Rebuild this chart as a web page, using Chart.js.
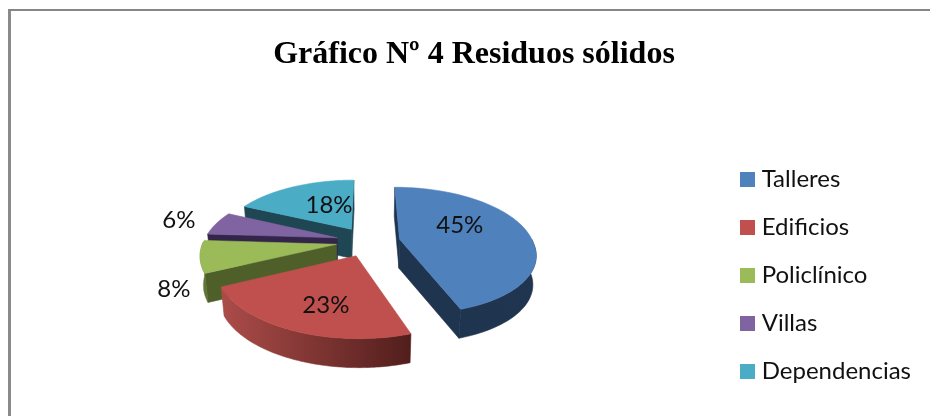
<!DOCTYPE html>
<html><head><meta charset="utf-8">
<script src="https://cdn.jsdelivr.net/npm/chart.js@4"></script>
<style>
html,body{margin:0;padding:0;background:#fff;overflow:hidden;width:930px;height:416px}
#frame{position:absolute;left:8px;top:9px;width:1000px;height:1000px;border-left:3px solid #8a8a8a;border-top:2px solid #868686}
#c{position:absolute;left:0;top:0}
</style></head><body>
<div id="frame"></div>
<canvas id="c" width="930" height="416"></canvas>
<script>
const titleText = 'Gráfico Nº 4 Residuos sólidos';
const categories = ['Talleres','Edificios','Policlínico','Villas','Dependencias'];
const values = [45,23,8,6,18];
const topColors = ['#4F81BD','#C0504D','#9BBB59','#8064A2','#4BACC6'];
const faceColors = ['#1F344F','#5A2422','#4F5F2A','#33254A','#1E4753'];
const rimLight = ['#1F344F','#AC4C49','#8AA64E','#33254A','#1E4753'];
const rimDark = ['#1F3550','#511E1C','#5F7334','#33254A','#1E4753'];
// label placement in the pie plane: radius fraction and turn (degrees) from the slice's middle
const labelRadius = [0.542,0.675,1.242,1.319,0.496];
const labelTurn = [-17.4,-5.8,-19.6,-0.8,8.9];
const paintOrder = [4,3,2,0,1];

const view = {x0:368,y0:241.5,a:133,b:62,k:0.18,shear:6,explode:0.242,depth:29,converge:0.98};

function project(u,v,low){
  const w = 1 - view.k*v;
  let x = view.x0 + view.a*u/w + view.shear*Math.max(v,0);
  let y = view.y0 + view.b*v/w;
  if(low){ x = view.x0 + (x-view.x0)*view.converge; y += view.depth; }
  return [x,y];
}
function poly(ctx,pts,fill){
  ctx.beginPath();
  pts.forEach((p,i)=> i?ctx.lineTo(p[0],p[1]):ctx.moveTo(p[0],p[1]));
  ctx.closePath();
  ctx.fillStyle=fill; ctx.fill();
  ctx.strokeStyle=fill; ctx.lineWidth=0.6; ctx.stroke();
}
function swatch(color){
  const s=document.createElement('canvas'); s.width=15; s.height=15;
  const g=s.getContext('2d'); g.fillStyle=color; g.fillRect(0,0,15,15);
  return s;
}
const pie3d = {
  id:'pie3d',
  beforeDatasetsDraw(chart){
    const ctx = chart.ctx, arcs = chart.getDatasetMeta(0).data;
    const geo = arcs.map(el=>{
      const s = el.startAngle+Math.PI/2, e = el.endAngle+Math.PI/2, m=(s+e)/2;
      return {s,e,m,ex:view.explode*Math.sin(m),ey:-view.explode*Math.cos(m)};
    });
    const pt=(g,t,r=1)=>[g.ex+r*Math.sin(t),g.ey-r*Math.cos(t)];
    ctx.save();
    paintOrder.forEach(i=>{
      const g=geo[i];
      const apex=project(g.ex,g.ey), apexLow=project(g.ex,g.ey,true);
      const midP=project(...pt(g,g.m));
      [g.s,g.e].forEach(t=>{
        const q=pt(g,t), r=project(q[0],q[1]), rl=project(q[0],q[1],true);
        const ex=r[0]-apex[0], ey=r[1]-apex[1];
        const side=ex*(midP[1]-apex[1])-ey*(midP[0]-apex[0]);
        const down=ex*view.depth;
        if(side*down<0) poly(ctx,[apex,r,rl,apexLow],faceColors[i]);
      });
      const n=90, rimT=[], rimB=[], top=[apex];
      let minX=1e9,maxX=-1e9;
      for(let j=0;j<=n;j++){
        const t=g.s+(g.e-g.s)*j/n, q=pt(g,t), p=project(q[0],q[1]);
        top.push(p);
        if(Math.cos(t)<0.03){ rimT.push(p); rimB.push(project(q[0],q[1],true)); minX=Math.min(minX,p[0]); maxX=Math.max(maxX,p[0]); }
      }
      if(rimT.length>1){
        const gr=ctx.createLinearGradient(minX,0,maxX,0);
        gr.addColorStop(0,rimLight[i]); gr.addColorStop(1,rimDark[i]);
        poly(ctx,rimT.concat(rimB.reverse()),gr);
      }
      poly(ctx,top,topColors[i]);
    });
    const total=values.reduce((a,b)=>a+b,0);
    ctx.font='24px Lato'; ctx.fillStyle='#111'; ctx.textAlign='center'; ctx.textBaseline='middle';
    geo.forEach((g,i)=>{
      const q=pt(g,g.m+labelTurn[i]*Math.PI/180,labelRadius[i]), p=project(q[0],q[1]);
      ctx.fillText(Math.round(values[i]/total*100)+'%',p[0],p[1]);
    });
    ctx.restore();
    return false;
  }
};
new Chart(document.getElementById('c'),{
  type:'pie',
  data:{labels:categories,datasets:[{data:values,backgroundColor:topColors,borderWidth:0}]},
  plugins:[pie3d],
  options:{
    responsive:false,animation:false,
    layout:{padding:{left:27,top:36,right:9,bottom:9}},
    plugins:{
      tooltip:{enabled:false},
      title:{display:true,text:titleText,color:'#000',font:{family:'Liberation Serif',size:32,weight:'bold'},padding:{top:0,bottom:0}},
      legend:{position:'right',align:'end',labels:{
        usePointStyle:true,pointStyleWidth:5,boxHeight:15,padding:24,color:'#111',font:{family:'Lato',size:24},
        generateLabels:()=>categories.map((text,index)=>({text,index,hidden:false,fontColor:'#111',lineWidth:0,fillStyle:topColors[index],strokeStyle:topColors[index],pointStyle:swatch(topColors[index])}))
      }}
    }
  }
});
</script></body></html>
